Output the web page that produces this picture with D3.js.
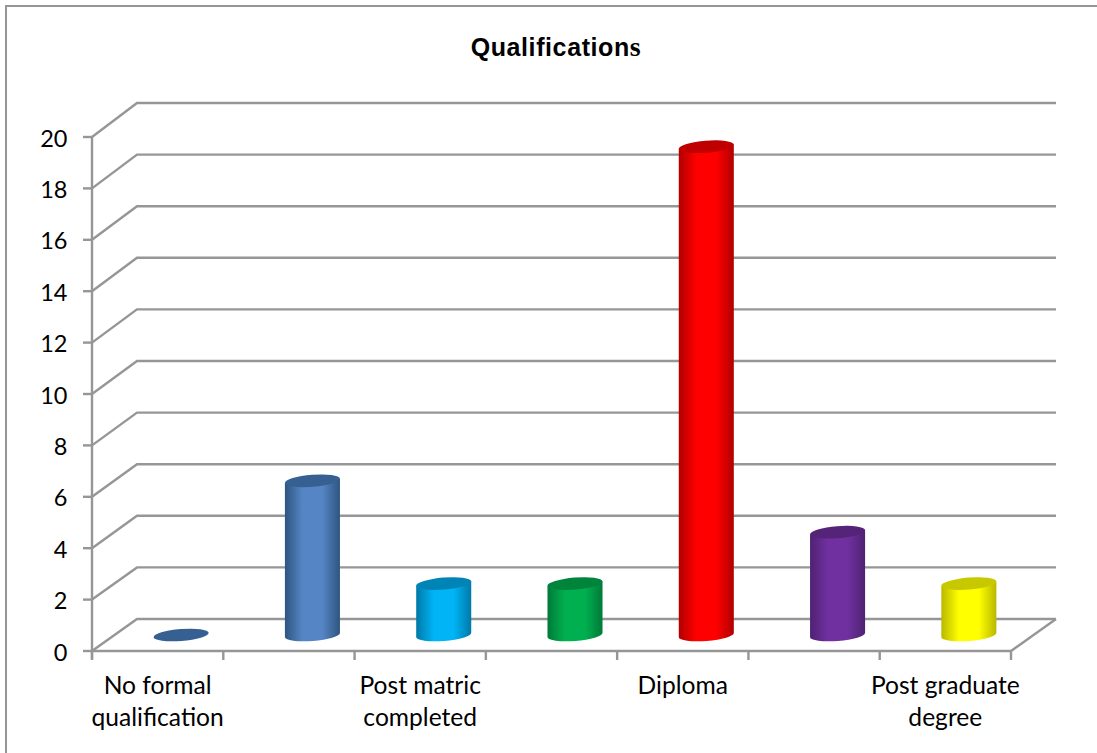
<!DOCTYPE html>
<html>
<head>
<meta charset="utf-8">
<script src="https://cdn.jsdelivr.net/npm/d3@7"></script>
<style>
html,body{margin:0;padding:0;background:#fff;overflow:hidden}
svg{display:block}
text{fill:#000}
</style>
</head>
<body>
<svg id="chart" width="1097" height="753"></svg>
<script>
const titleMain = "Qualification";
const titleTail = "s";
const categories = ["No formal qualification","Matric","Post matric completed","Certificate","Diploma","Degree","Post graduate degree"];
const values = [0,6,2,2,19,4,2];
const shownLabels = [["No formal","qualification"],[],["Post matric","completed"],[],["Diploma"],[],["Post graduate","degree"]];
const bodyColors = ["#5585C5","#5585C5","#00B4F6","#00B050","#FF0000","#7030A0","#FFFF00"];
const edgeColors = ["#2E5580","#2E5580","#0079A8","#007A38","#B00000","#4E2272","#B8B800"];
const capColors = ["#376092","#376092","#0084B6","#00843C","#C00000","#552479","#C8C800"];
const yTicks = d3.range(0,21,2);

const svg = d3.select("#chart");
const gray = "#969696";

// Front face of the 3-D box and its back wall, which sit on separate vertical scales
const y = d3.scaleLinear().domain([0,20]).range([651,137]);
const yBack = d3.scaleLinear().domain([0,20]).range([619,103]);
const x = d3.scaleBand().domain(categories).range([92,1011]);
const depthX = 45;

// Outer frame: only the top and left edges fall inside the page
svg.append("path").attr("d","M6,753V6H1097")
  .attr("fill","none").attr("stroke",gray).attr("stroke-width",2);

svg.append("text").attr("x",556).attr("y",55.5).attr("text-anchor","middle")
  .style("font","bold 25px 'Liberation Sans'").style("letter-spacing","0.6px")
  .text(titleMain)
  .append("tspan").style("font-family","'Liberation Serif'").style("font-size","28px").text(titleTail);

// Walls, floor and gridlines
const walls = svg.append("g").attr("fill","none").attr("stroke",gray).attr("stroke-width",2.4);
yTicks.forEach(t=>{
  walls.append("path").attr("d",d3.line()([
    [x.range()[0],y(t)],
    [x.range()[0]+depthX,yBack(t)],
    [x.range()[1]+depthX,yBack(t)]
  ]));
  walls.append("line").attr("x1",x.range()[0]-9).attr("x2",x.range()[0]).attr("y1",y(t)).attr("y2",y(t));
});
walls.append("line").attr("x1",x.range()[0]).attr("x2",x.range()[0]).attr("y1",y(0)+8).attr("y2",y(20));
walls.append("path").attr("d",d3.line()([
  [x.range()[0],y(0)],[x.range()[1],y(0)],[x.range()[1]+depthX,yBack(0)]
]));
[...categories.map(c=>x(c)),x.range()[1]].forEach(px=>{
  walls.append("line").attr("x1",px).attr("x2",px).attr("y1",y(0)).attr("y2",y(0)+9);
});

// Value labels on the front axis
svg.append("g").selectAll("text").data(yTicks).join("text")
  .attr("x",67.5).attr("y",d=>y(d)+9.5).attr("text-anchor","end")
  .style("font","23.5px Lato").text(d=>d);

// Category labels, wrapped onto two lines
shownLabels.forEach((lines,i)=>{
  lines.forEach((line,j)=>{
    svg.append("text")
      .attr("x",x(categories[i])+x.bandwidth()/2)
      .attr("y",693.5+j*32)
      .attr("text-anchor","middle")
      .style("font","24.6px Lato").text(line);
  });
});

// Cylinders stand midway between the front face and the back wall
const defs = svg.append("defs");
const rx = 27.6, ry = 6, tilt = -4.5, rad = tilt*Math.PI/180;
const dx = rx*Math.cos(rad), dy = rx*Math.sin(rad);
const cy = v => y(v)-16;
const bars = svg.append("g");
categories.forEach((c,i)=>{
  const cx = x(c)+x.bandwidth()/2+depthX/2+1;
  const top = cy(values[i]), bot = cy(0);
  const gid = "cyl"+i;
  const g = defs.append("linearGradient").attr("id",gid);
  [[0,edgeColors[i]],[.32,bodyColors[i]],[.68,bodyColors[i]],[1,edgeColors[i]]].forEach(([o,col])=>{
    g.append("stop").attr("offset",o).attr("stop-color",col);
  });
  if(values[i]>0){
    bars.append("path").attr("fill",`url(#${gid})`).attr("d",
      `M${cx-dx},${top-dy} L${cx-dx},${bot-dy} A${rx},${ry} ${tilt} 0 0 ${cx+dx},${bot+dy} L${cx+dx},${top+dy} Z`);
  }
  bars.append("ellipse").attr("cx",cx).attr("cy",top).attr("rx",rx).attr("ry",ry)
    .attr("transform",`rotate(${tilt} ${cx} ${top})`).attr("fill",capColors[i]);
});
</script>
</body>
</html>
